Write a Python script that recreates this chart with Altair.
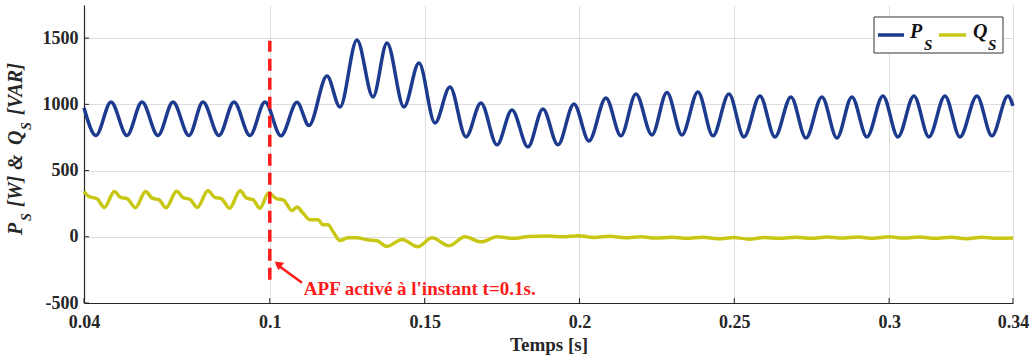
import altair as alt
import pandas as pd

# ---------------- data ----------------
p_t = [0.04, 0.04387, 0.04872, 0.05388, 0.05873, 0.06389, 0.06874, 0.0739, 0.07842, 0.08359,
       0.08843, 0.0936, 0.09844, 0.10361, 0.10878, 0.11265, 0.11846, 0.12266, 0.12815, 0.13332,
       0.13784, 0.14333, 0.14817, 0.15334, 0.15818, 0.16335, 0.16819, 0.17336, 0.1782, 0.18337,
       0.18821, 0.19305, 0.19822, 0.20306, 0.20855, 0.21339, 0.21824, 0.2234, 0.22825, 0.23309,
       0.23826, 0.2431, 0.24827, 0.25311, 0.25828, 0.26312, 0.26829, 0.27313, 0.2783, 0.28314,
       0.28798, 0.29283, 0.298, 0.30284, 0.30801, 0.31285, 0.31802, 0.32286, 0.32834, 0.33319,
       0.33836, 0.34]
p_val = [975, 765, 1018, 765, 1018, 765, 1018, 765, 1018, 765,
         1018, 765, 1018, 762, 1015, 840, 1214, 980, 1486, 1056,
         1463, 980, 1312, 860, 1131, 754, 1011, 694, 958, 679,
         965, 694, 1003, 724, 1048, 762, 1078, 769, 1090, 769,
         1094, 762, 1078, 754, 1063, 754, 1056, 746, 1056, 746,
         1056, 754, 1063, 754, 1063, 754, 1063, 754, 1063, 762,
         1063, 988]

q_t = [0.0400, 0.0416, 0.0442, 0.0466, 0.0498, 0.0518, 0.0540, 0.0566, 0.0599, 0.0620,
       0.0642, 0.0665, 0.0699, 0.0720, 0.0742, 0.0766, 0.0800, 0.0823, 0.0844, 0.0870,
       0.0904, 0.0925, 0.0946, 0.0968, 0.0996, 0.1023, 0.1043, 0.1072, 0.1088, 0.1107,
       0.1130, 0.1156, 0.1172, 0.1188, 0.1204, 0.1227, 0.1252, 0.1282, 0.1314, 0.1346,
       0.1378, 0.1427, 0.1478, 0.1524, 0.1579, 0.1630, 0.1682, 0.1734, 0.1785, 0.1837,
       0.1898, 0.1947, 0.1995, 0.2047, 0.2098, 0.2147, 0.2199, 0.2247, 0.2299, 0.2347,
       0.2399, 0.2447, 0.2499, 0.2547, 0.2599, 0.2647, 0.2699, 0.2747, 0.2799, 0.2848,
       0.2899, 0.2948, 0.2999, 0.3048, 0.3099, 0.3148, 0.3200, 0.3248, 0.3300, 0.3348,
       0.3400]
q_val = [342, 304, 287, 222, 342, 297, 287, 220, 342, 292,
         280, 219, 344, 296, 283, 222, 347, 297, 287, 216,
         347, 292, 280, 216, 330, 286, 279, 198, 224, 179,
         128, 128, 90, 90, 40, -28, -8, -8, -23, -30,
         -73, -20, -75, -8, -68, 0, -38, 0, -12, 2,
         6, 0, 8, -5, 4, -8, 0, -10, -3, -12,
         -4, -15, -6, -18, -5, -12, -3, -12, -2, -10,
         -2, -12, 0, -10, -2, -12, -4, -14, -3, -12,
         -10]

series_names = ["P_S", "Q_S"]
x_ticks = [0.04, 0.1, 0.15, 0.2, 0.25, 0.3, 0.34]
y_ticks = [-500, 0, 500, 1000, 1500]
x_domain = [0.04, 0.34]
y_domain = [-500, 1750]

event_t = [0.1]
event_y1 = [-325]
event_y2 = [1480]
note_text = ["APF activé à l'instant t=0.1s."]

FONT = "'Liberation Serif', 'Times New Roman', Times, serif"
BLUE = "#1c3a8e"
YEL = "#c8c814"
RED = "#ff1a1a"
INK = "#262626"

assert len(p_t) == len(p_val) and len(q_t) == len(q_val)

lines_df = pd.concat([
    pd.DataFrame({"t": p_t, "v": p_val, "s": series_names[0]}),
    pd.DataFrame({"t": q_t, "v": q_val, "s": series_names[1]}),
], ignore_index=True)

xs = alt.Scale(domain=x_domain, nice=False, zero=False)
ys = alt.Scale(domain=y_domain, nice=False, zero=False)
cs = alt.Scale(domain=series_names, range=[BLUE, YEL])

lines = alt.Chart(lines_df).mark_line(strokeWidth=3.5, interpolate="monotone").encode(
    x=alt.X("t:Q", scale=xs,
            axis=alt.Axis(values=x_ticks, format="~g", title="Temps [s]", grid=True,
                          labelPadding=10, titlePadding=4, labelFlush=False)),
    y=alt.Y("v:Q", scale=ys,
            axis=alt.Axis(values=y_ticks, labelExpr="'' + datum.value", title=None,
                          grid=True, labelPadding=6, labelFlush=False)),
    color=alt.Color("s:N", scale=cs, legend=None),
    detail="s:N",
)

# inward tick marks
xtick_df = pd.DataFrame({"t": x_ticks})
xtick = alt.Chart(xtick_df).mark_rule(color=INK, strokeWidth=1).encode(
    x=alt.X("t:Q", scale=xs), y=alt.value(298), y2=alt.value(293))
ytick_df = pd.DataFrame({"v": y_ticks})
ytick = alt.Chart(ytick_df).mark_rule(color=INK, strokeWidth=1).encode(
    y=alt.Y("v:Q", scale=ys), x=alt.value(0), x2=alt.value(5))

# red dashed event line
ev_df = pd.DataFrame({"t": event_t, "y1": event_y1, "y2": event_y2})
event = alt.Chart(ev_df).mark_rule(color=RED, strokeWidth=3.5, strokeDash=[12, 7]).encode(
    x=alt.X("t:Q", scale=xs), y=alt.Y("y1:Q", scale=ys), y2="y2:Q")

# arrow + annotation
arr_df = pd.DataFrame({"t": [0.1104], "v": [-347], "t2": [0.1021], "v2": [-205]})
arrow = alt.Chart(arr_df).mark_rule(color=RED, strokeWidth=2.5).encode(
    x=alt.X("t:Q", scale=xs), y=alt.Y("v:Q", scale=ys), x2="t2:Q", y2="v2:Q")
head_df = pd.DataFrame({"t": [0.10265], "v": [-205]})
head = alt.Chart(head_df).mark_point(shape="triangle-up", filled=True, size=90, color=RED,
                                     opacity=1, angle=308).encode(
    x=alt.X("t:Q", scale=xs), y=alt.Y("v:Q", scale=ys))
note_df = pd.DataFrame({"t": [0.1110], "v": [-437], "text": note_text})
note = alt.Chart(note_df).mark_text(align="left", baseline="alphabetic", font=FONT,
                                    fontWeight="bold", fontSize=19, color=RED).encode(
    x=alt.X("t:Q", scale=xs), y=alt.Y("v:Q", scale=ys), text="text:N")

# y-axis title with subscripts (rotated pieces)
yt_df = pd.DataFrame({
    "text": ["P", "S", "[W]", "&", "Q", "S", "[VAR]"],
    "px": [-62, -53, -62, -62, -62, -53, -62],
    "py": [230, 216, 202, 165, 140, 125, 110],
    "fs": [20, 14, 20, 20, 20, 14, 20],
})
ytitle = alt.Chart(yt_df).mark_text(align="left", baseline="alphabetic", angle=270, font=FONT,
                                    fontWeight="bold", fontStyle="italic", color=INK).encode(
    x=alt.X("px:Q", scale=None, axis=None), y=alt.Y("py:Q", scale=None, axis=None),
    size=alt.Size("fs:Q", scale=None, legend=None), text="text:N")

# legend (manual, to allow subscripts)
leg_box = alt.Chart(pd.DataFrame({"a": [0]})).mark_rect(fill="white", stroke="#333333",
                                                         strokeWidth=1).encode(
    x=alt.value(790), x2=alt.value(919), y=alt.value(12), y2=alt.value(48))
leg_lines_df = pd.DataFrame({"x1": [794, 855], "x2": [820, 882], "y": [30, 30], "s": series_names})
leg_lines = alt.Chart(leg_lines_df).mark_rule(strokeWidth=3.5).encode(
    x=alt.X("x1:Q", scale=None, axis=None), x2="x2:Q",
    y=alt.Y("y:Q", scale=None, axis=None),
    color=alt.Color("s:N", scale=cs, legend=None))
leg_txt_df = pd.DataFrame({
    "text": ["P", "S", "Q", "S"],
    "px": [826, 840, 889, 904],
    "py": [33, 45, 33, 45],
    "fs": [20, 15, 20, 15],
})
leg_txt = alt.Chart(leg_txt_df).mark_text(align="left", baseline="alphabetic", font=FONT,
                                          fontWeight="bold", fontStyle="italic", color="#111111").encode(
    x=alt.X("px:Q", scale=None, axis=None), y=alt.Y("py:Q", scale=None, axis=None),
    size=alt.Size("fs:Q", scale=None, legend=None), text="text:N")

chart = alt.layer(
    lines, xtick, ytick, event, arrow, head, note, ytitle, leg_box, leg_lines, leg_txt
).properties(
    width=929, height=298,
    autosize=alt.AutoSizeParams(type="none"),
    padding={"left": 84, "top": 5, "right": 22, "bottom": 60},
    background="white",
).configure_view(stroke=None).configure_axis(
    labelFont=FONT, labelFontWeight="bold", labelFontSize=18, labelColor=INK,
    domainColor=INK, domainWidth=1.2, gridColor="#dedede", gridWidth=1, ticks=False,
    titleFont=FONT, titleFontWeight="bold", titleFontSize=19, titleColor=INK,
)

chart.save("out.html", embed_options={"renderer": "svg", "actions": False})
